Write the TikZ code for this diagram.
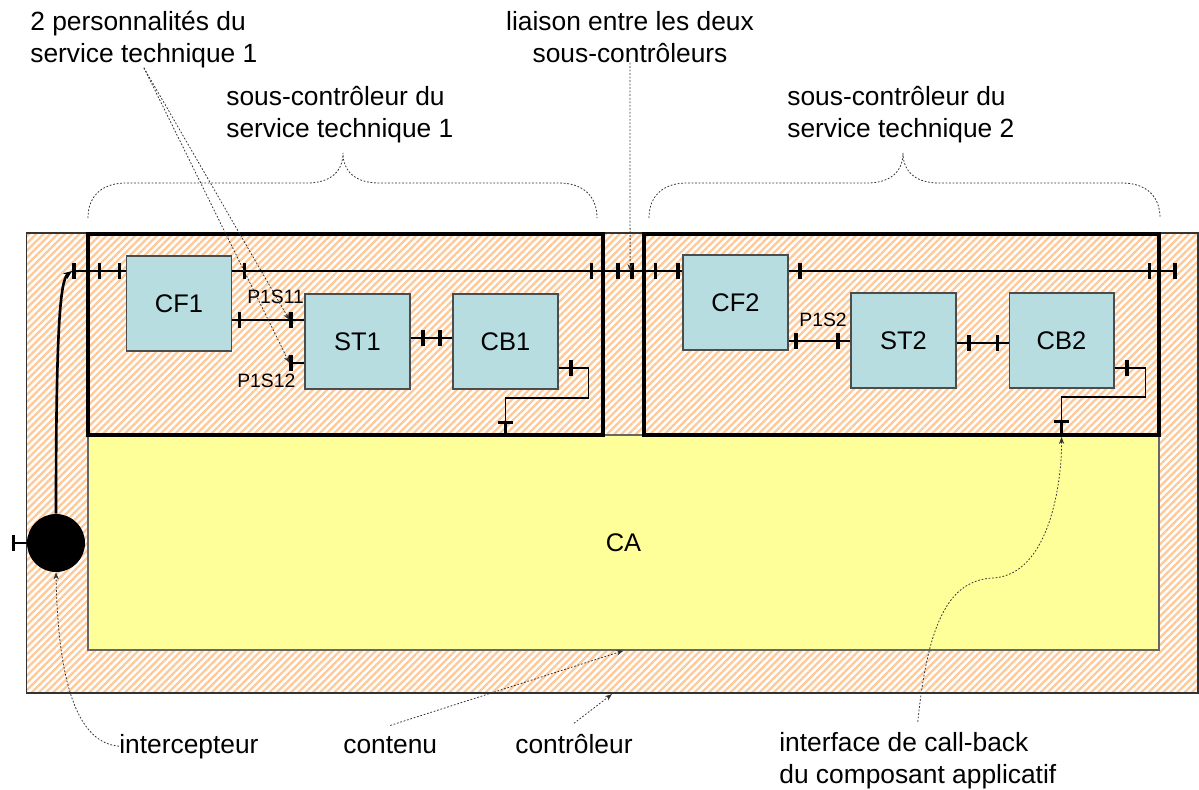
\documentclass[tikz,border=0pt]{standalone}
\usepackage{fontspec}
\setmainfont{Liberation Sans}
\usepackage{tikz}
\usetikzlibrary{arrows.meta, patterns.meta, positioning, calc}

\definecolor{hatch}{RGB}{255,200,150}
\definecolor{content}{RGB}{255,255,153}
\definecolor{compo}{RGB}{183,221,224}

\begin{document}
\begin{tikzpicture}[
        x=0.02cm, y=-0.02cm,
        lbl/.style={font=\fontsize{15}{18}\selectfont, inner sep=0pt, align=left},
        botlbl/.style={lbl, outer ysep=6pt},
        compbox/.style={rectangle, draw=black!70, line width=0.6pt, fill=compo, minimum width=2.1cm, minimum height=1.9cm, font=\fontsize{14.5}{17}\selectfont},
        subctrl/.style={rectangle, draw=black, line width=2.2pt, minimum width=10.3cm, minimum height=4.02cm},
        stub/.style={line width=1.5pt, -{Bar[width=9pt, line width=2pt]}},
        wire/.style={draw, line width=0.7pt},
        link/.style={draw, line width=1.5pt},
        leader/.style={draw=black!80, line width=0.45pt, dash pattern=on 1pt off 1pt, -{Stealth[length=4pt, width=3pt]}},
        brace/.style={draw=black!80, line width=0.45pt, dash pattern=on 1pt off 1pt},
        portlbl/.style={font=\fontsize{11}{13}\selectfont, inner sep=0pt}
    ]
        \useasboundingbox (0,0) rectangle (1199,789);

        % --- Controller, content, sub-controllers ---
        \node[rectangle, draw=black!80, line width=0.7pt, minimum width=23.44cm, minimum height=9.2cm,
              pattern={Lines[angle=45, distance=2.9pt, line width=1.3pt]}, pattern color=hatch] (ctrl) at (612,463) {};
        \node[rectangle, draw=black!60, line width=0.7pt, fill=content, minimum width=21.42cm, minimum height=4.3cm,
              font=\fontsize{14.5}{17}\selectfont] (ca) at (623.5,542.5) {CA};
        \node[subctrl] (sc1) at (345.5,334.5) {};
        \node[subctrl] (sc2) at (901.5,334.5) {};

        % --- Components ---
        \node[compbox] (cf1) at (179,303.5) {CF1};
        \node[compbox] (st1) at (357.5,341.5) {ST1};
        \node[compbox] (cb1) at (505.5,341.5) {CB1};
        \node[compbox] (cf2) at (735.5,302.5) {CF2};
        \node[compbox] (st2) at (903.5,340.5) {ST2};
        \node[compbox] (cb2) at (1061.5,340.5) {CB2};

        \node[circle, fill=black, minimum size=1.16cm, inner sep=0pt] (icpt) at (56,543) {};

        % --- Upper line ---
        \coordinate (bus) at (0,271);
        \draw[stub] (sc1.west |- bus) -- ++(-14,0) coordinate (sc1w);
        \draw[stub] (sc1.west |- bus) -- ++(15,0) coordinate (sc1wi);
        \draw[stub] (cf1.west |- bus) -- ++(-8,0) coordinate (cf1w);
        \draw[link] (sc1wi) -- (cf1w);
        \draw[stub] (cf1.east |- bus) -- ++(14,0) coordinate (cf1e);
        \draw[stub] (sc1.east |- bus) -- ++(-15,0) coordinate (sc1ei);
        \draw[stub] (sc1.east |- bus) -- ++(15,0) coordinate (sc1e);
        \draw[wire] (cf1e) -- (sc1ei);
        \draw[stub] (sc2.west |- bus) -- ++(-12,0) coordinate (sc2w);
        \draw[stub] (sc2.west |- bus) -- ++(15,0) coordinate (sc2wi);
        \draw[link] (sc1e) -- (sc2w);
        \draw[stub] (cf2.west |- bus) -- ++(-6,0) coordinate (cf2w);
        \draw[link] (sc2wi) -- (cf2w);
        \draw[stub] (cf2.east |- bus) -- ++(13,0) coordinate (cf2e);
        \draw[stub] (sc2.east |- bus) -- ++(-13,0) coordinate (sc2ei);
        \draw[stub] (sc2.east |- bus) -- ++(16,0) coordinate (sc2e);
        \draw[wire] (cf2e) -- (sc2ei);

        % --- Interceptor ---
        \draw[stub] (icpt.west) -- ++(-15,0);
        \draw[link, -{Stealth[length=5pt, width=4pt]}] (icpt.north) .. controls (56,330) and (60,280) .. (sc1w);

        % --- Sub-controller 1 ---
        \draw[stub] (cf1.east |- 0,320) -- ++(9,0) coordinate (cf1s);
        \draw[stub] (st1.west |- 0,320) -- ++(-15,0) coordinate (st1a);
        \draw[wire] (cf1s) -- (st1a);
        \draw[stub] (st1.west |- 0,363) -- ++(-15,0) coordinate (st1b);
        \draw[stub] (st1.east |- 0,338) -- ++(14,0) coordinate (st1e);
        \draw[stub] (cb1.west |- 0,338) -- ++(-14,0) coordinate (cb1w);
        \draw[link] (st1e) -- (cb1w);
        \draw[stub] (cb1.east |- 0,368) -- ++(14,0) coordinate (cb1e);
        \draw[stub] (sc1.south -| cb1) -- ++(0,-16) coordinate (sc1s);
        \draw[wire] (cb1e) -- ++(16,0) |- ($(sc1s)+(0,-23)$) -- (sc1s);

        % --- Sub-controller 2 ---
        \draw[stub] (cf2.east |- 0,341) -- ++(9,0) coordinate (cf2s);
        \draw[stub] (st2.west |- 0,341) -- ++(-14,0) coordinate (st2a);
        \draw[wire] (cf2s) -- (st2a);
        \draw[stub] (st2.east |- 0,343) -- ++(14,0) coordinate (st2e);
        \draw[stub] (cb2.west |- 0,343) -- ++(-13,0) coordinate (cb2w);
        \draw[wire] (st2e) -- (cb2w);
        \draw[stub] (cb2.east |- 0,368) -- ++(14,0) coordinate (cb2e);
        \draw[stub] (sc2.south -| cb2) coordinate (sc2b) -- ++(0,-17) coordinate (sc2s);
        \draw[wire] (cb2e) -- ++(17,0) |- ($(sc2s)+(0,-23)$) -- (sc2s);

        % --- Port names ---
        \node[portlbl, anchor=base west] (p1s11) at (247,303) {P1S11};
        \node[portlbl, anchor=base west] (p1s12) at (237,387) {P1S12};
        \node[portlbl, anchor=base west] (p1s2) at (799,326) {P1S2};

        % --- Annotations ---
        \node[lbl, anchor=base west] (pers) at (30,62) {2 personnalités du\\service technique 1};
        \node[lbl, anchor=base, align=center] (liaison) at (630,62) {liaison entre les deux\\sous-contrôleurs};
        \node[lbl, anchor=base west] (sc1lbl) at (226,137) {sous-contrôleur du\\service technique 1};
        \node[lbl, anchor=base west] (sc2lbl) at (787,137) {sous-contrôleur du\\service technique 2};
        \node[botlbl, anchor=base west] (icptlbl) at (119,753) {intercepteur};
        \node[botlbl, anchor=base west] (contenu) at (343,753) {contenu};
        \node[botlbl, anchor=base west] (ctrllbl) at (515,753) {contrôleur};
        \node[botlbl, anchor=base west] (cblbl) at (779,783) {interface de call-back\\du composant applicatif};

        \draw[brace] (88,218) .. controls +(0,-22) and +(-24,0) .. (126,183) -- (307,183)
            .. controls +(24,0) and +(0,18) .. (343,153) .. controls +(0,18) and +(-24,0) .. (379,183)
            -- (559,183) .. controls +(24,0) and +(0,-22) .. (597,218);
        \draw[brace] (649,218) .. controls +(0,-22) and +(-24,0) .. (687,183) -- (867,183)
            .. controls +(24,0) and +(0,18) .. (903,153) .. controls +(0,18) and +(-24,0) .. (939,183)
            -- (1122,183) .. controls +(24,0) and +(0,-22) .. (1160,218);

        \draw[leader] (pers.south) -- (st1a);
        \draw[leader] (pers.south) -- (st1b);
        \draw[leader] (liaison.south) -- (sc2w);
        \draw[leader] (icptlbl.west) .. controls (80,743) and (58,690) .. (icpt.south);
        \draw[leader] (contenu.north) -- (ca.south);
        \draw[leader] (ctrllbl.north) -- (ctrl.south);
        \draw[leader] (cblbl.north) .. controls (928,620) and (950,580) .. (993,578)
            .. controls (1050,575) and (1062,480) .. (sc2b);

\end{tikzpicture}
\end{document}
